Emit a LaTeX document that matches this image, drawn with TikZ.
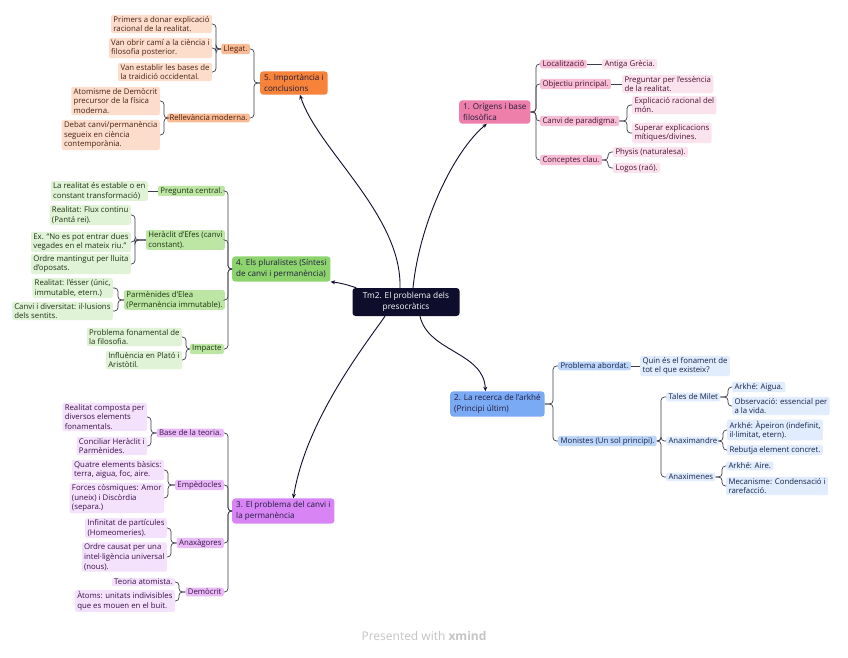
\documentclass[tikz,border=0pt]{standalone}
\usepackage{fontspec}
\setmainfont{Open Sans}
\usetikzlibrary{arrows.meta,calc}
\definecolor{ink}{HTML}{1E1B3C}
\definecolor{navy}{HTML}{0E0D2C}
\definecolor{lineC}{HTML}{3C3C4C}
\definecolor{footC}{HTML}{C4C4C4}
\definecolor{pinkM}{HTML}{EE7FAA}
\definecolor{pinkS}{HTML}{F6BFD6}
\definecolor{pinkL}{HTML}{FBE3EE}
\definecolor{pinkT}{HTML}{4A1030}
\definecolor{orgM}{HTML}{F7823A}
\definecolor{orgS}{HTML}{F9BB95}
\definecolor{orgL}{HTML}{FCDDCB}
\definecolor{orgT}{HTML}{4A2010}
\definecolor{grnM}{HTML}{8ED46E}
\definecolor{grnS}{HTML}{BDE6A5}
\definecolor{grnL}{HTML}{E1F3D6}
\definecolor{grnT}{HTML}{1C3310}
\definecolor{bluM}{HTML}{7BAAF5}
\definecolor{bluS}{HTML}{BED6FA}
\definecolor{bluL}{HTML}{E1ECFD}
\definecolor{bluT}{HTML}{14224A}
\definecolor{purM}{HTML}{D884F5}
\definecolor{purS}{HTML}{E9BCF8}
\definecolor{purL}{HTML}{F4E1FC}
\definecolor{purT}{HTML}{3A1048}
\begin{document}
\begin{tikzpicture}[x=1pt,y=-1pt,
  every node/.style={text=ink, align=left},
  txt/.style={font=\fontsize{7.8}{9.8}\selectfont, inner xsep=2.3pt, inner ysep=1.3pt, rounded corners=2pt},
  mainbox/.style={font=\fontsize{8.1}{10.6}\selectfont, inner xsep=4pt, inner ysep=3.2pt, rounded corners=3pt},
  centralbox/.style={fill=navy, text=white, align=center, font=\fontsize{8.3}{10.6}\selectfont, rounded corners=3pt, minimum width=107pt, minimum height=28pt, inner sep=3pt},
  pS/.style={txt,fill=pinkS,text=pinkT}, pL/.style={txt,fill=pinkL,text=pinkT},
  oS/.style={txt,fill=orgS,text=orgT}, oL/.style={txt,fill=orgL,text=orgT},
  gS/.style={txt,fill=grnS,text=grnT}, gL/.style={txt,fill=grnL,text=grnT},
  bS/.style={txt,fill=bluS,text=bluT}, bL/.style={txt,fill=bluL,text=bluT},
  uS/.style={txt,fill=purS,text=purT}, uL/.style={txt,fill=purL,text=purT},
  br/.style={draw=lineC, line width=0.7pt, rounded corners=3.5pt},
  mc/.style={draw=navy, line width=0.9pt, -{Stealth[length=4.5pt,width=4pt]}}
]
\useasboundingbox[fill=white] (0,0) rectangle (848,658);

% central
\node[centralbox] (c) at (406,302) {Tm2. El problema dels\\presocràtics};

% ---------- 1 pink
\node[mainbox,fill=pinkM,anchor=west] (t1) at (459,112) {1. Orígens i base\\filosòfica};
\coordinate (b1) at (536,112);
\node[pS,anchor=west] (s11) at (540,64) {Localització};
\node[pL,anchor=west] (l111) at (602,64) {Antiga Grècia.};
\node[pS,anchor=west] (s12) at (540,84) {Objectiu principal.};
\node[pL,anchor=west] (l121) at (622,84) {Preguntar per l'essència\\de la realitat.};
\node[pS,anchor=west] (s13) at (540,121) {Canvi de paradigma.};
\coordinate (b13) at (627,121);
\node[pL,anchor=west] (l131) at (632,105) {Explicació racional del\\món.};
\node[pL,anchor=west] (l132) at (632,133) {Superar explicacions\\mítiques/divines.};
\node[pS,anchor=west] (s14) at (540,160) {Conceptes clau.};
\coordinate (b14) at (608,160);
\node[pL,anchor=west] (l141) at (613,152) {Physis (naturalesa).};
\node[pL,anchor=west] (l142) at (613,168) {Logos (raó).};
\foreach \ch in {s11,s12,s13,s14} \draw[br] (t1.east) -- (t1.east -| b1) |- (\ch.west);
\draw[br] (s11.east) -- (l111.west);
\draw[br] (s12.east) -- (l121.west);
\foreach \ch in {l131,l132} \draw[br] (s13.east) -- (s13.east -| b13) |- (\ch.west);
\foreach \ch in {l141,l142} \draw[br] (s14.east) -- (s14.east -| b14) |- (\ch.west);

% ---------- 5 orange
\node[mainbox,fill=orgM,anchor=west] (t5) at (260,83) {5. Importància i\\conclusions};
\coordinate (b5) at (254,83);
\node[oS,anchor=east] (s51) at (250,49) {Llegat.};
\coordinate (b51) at (216,49);
\node[oL,anchor=east] (l511) at (212,24) {Primers a donar explicació\\racional de la realitat.};
\node[oL,anchor=east] (l512) at (212,48) {Van obrir camí a la ciència i\\filosofia posterior.};
\node[oL,anchor=east] (l513) at (212,72) {Van establir les bases de\\la traidició occidental.};
\node[oS,anchor=east] (s52) at (250,118) {Rellevància moderna.};
\coordinate (b52) at (164,118);
\node[oL,anchor=east] (l521) at (160,101) {Atomisme de Demòcrit\\precursor de la física\\moderna.};
\node[oL,anchor=east] (l522) at (160,135) {Debat canvi/permanència\\segueix en ciència\\contemporània.};
\foreach \ch in {s51,s52} \draw[br] (t5.west) -- (t5.west -| b5) |- (\ch.east);
\foreach \ch in {l511,l512,l513} \draw[br] (s51.west) -- (s51.west -| b51) |- (\ch.east);
\foreach \ch in {l521,l522} \draw[br] (s52.west) -- (s52.west -| b52) |- (\ch.east);

% ---------- 4 green
\node[mainbox,fill=grnM,anchor=west] (t4) at (232,269) {4. Els pluralistes (Síntesi\\de canvi i permanència)};
\coordinate (b4) at (228,269);
\node[gS,anchor=east] (s41) at (225,191) {Pregunta central.};
\node[gL,anchor=east] (l411) at (148,191) {La realitat és estable o en\\constant transformació)};
\node[gS,anchor=east] (s42) at (225,240) {Heràclit d'Efes (canvi\\constant).};
\coordinate (b42) at (135,240);
\node[gL,anchor=east] (l421) at (131,215) {Realitat: Flux continu\\(Pantá rei).};
\node[gL,anchor=east] (l422) at (131,242) {Ex. “No es pot entrar dues\\vegades en el mateix riu.”};
\node[gL,anchor=east] (l423) at (131,264) {Ordre mantingut per lluita\\d'oposats.};
\node[gS,anchor=east] (s43) at (225,300) {Parmènides d'Elea\\(Permanència immutable).};
\coordinate (b43) at (118,300);
\node[gL,anchor=east] (l431) at (113,288) {Realitat: l'ésser (únic,\\immutable, etern.)};
\node[gL,anchor=east] (l432) at (113,311) {Canvi i diversitat: il·lusions\\dels sentits.};
\node[gS,anchor=east] (s44) at (224,349) {Impacte};
\coordinate (b44) at (186,349);
\node[gL,anchor=east] (l441) at (182,337) {Problema fonamental de\\la filosofia.};
\node[gL,anchor=east] (l442) at (182,360) {Influència en Plató i\\Aristòtil.};
\foreach \ch in {s41,s42,s43,s44} \draw[br] (t4.west) -- (t4.west -| b4) |- (\ch.east);
\draw[br] (s41.west) -- (l411.east);
\foreach \ch in {l421,l422,l423} \draw[br] (s42.west) -- (s42.west -| b42) |- (\ch.east);
\foreach \ch in {l431,l432} \draw[br] (s43.west) -- (s43.west -| b43) |- (\ch.east);
\foreach \ch in {l441,l442} \draw[br] (s44.west) -- (s44.west -| b44) |- (\ch.east);

% ---------- 2 blue
\node[mainbox,fill=bluM,anchor=west] (t2) at (450,404) {2. La recerca de l'arkhé\\(Principi últim)};
\coordinate (b2) at (553,404);
\node[bS,anchor=west] (s21) at (558,366) {Problema abordat.};
\node[bL,anchor=west] (l211) at (640,366) {Quin és el fonament de\\tot el que existeix?};
\node[bS,anchor=west] (s22) at (558,441) {Monistes (Un sol principi).};
\coordinate (b22) at (661,441);
\node[bL,anchor=west] (s221) at (666,397) {Tales de Milet};
\coordinate (b221) at (728,397);
\node[bL,anchor=west] (l2211) at (732,387) {Arkhé: Aigua.};
\node[bL,anchor=west] (l2212) at (732,406) {Observació: essencial per\\a la vida.};
\node[bL,anchor=west] (s222) at (666,441) {Anaximandre};
\coordinate (b222) at (723,441);
\node[bL,anchor=west] (l2221) at (727,430) {Arkhé: Àpeiron (indefinit,\\il·limitat, etern).};
\node[bL,anchor=west] (l2222) at (727,450) {Rebutja element concret.};
\node[bL,anchor=west] (s223) at (666,477) {Anaximenes};
\coordinate (b223) at (722,477);
\node[bL,anchor=west] (l2231) at (726,466) {Arkhé: Aire.};
\node[bL,anchor=west] (l2232) at (726,486) {Mecanisme: Condensació i\\rarefacció.};
\foreach \ch in {s21,s22} \draw[br] (t2.east) -- (t2.east -| b2) |- (\ch.west);
\draw[br] (s21.east) -- (l211.west);
\foreach \ch in {s221,s222,s223} \draw[br] (s22.east) -- (s22.east -| b22) |- (\ch.west);
\foreach \ch in {l2211,l2212} \draw[br] (s221.east) -- (s221.east -| b221) |- (\ch.west);
\foreach \ch in {l2221,l2222} \draw[br] (s222.east) -- (s222.east -| b222) |- (\ch.west);
\foreach \ch in {l2231,l2232} \draw[br] (s223.east) -- (s223.east -| b223) |- (\ch.west);

% ---------- 3 purple
\node[mainbox,fill=purM,anchor=west] (t3) at (232,511) {3. El problema del canvi i\\la permanència};
\coordinate (b3) at (228,511);
\node[uS,anchor=east] (s31) at (224,433) {Base de la teoria.};
\coordinate (b31) at (151,433);
\node[uL,anchor=east] (l311) at (147,417) {Realitat composta per\\diversos elements\\fonamentals.};
\node[uL,anchor=east] (l312) at (147,446) {Conciliar Heràclit i\\Parmènides.};
\node[uS,anchor=east] (s32) at (224,485) {Empèdocles};
\coordinate (b32) at (168,485);
\node[uL,anchor=east] (l321) at (164,470) {Quatre elements bàsics:\\terra, aigua, foc, aire.};
\node[uL,anchor=east] (l322) at (164,498) {Forces còsmiques: Amor\\(uneix) i Discòrdia\\(separa.)};
\node[uS,anchor=east] (s33) at (224,543) {Anaxàgores};
\coordinate (b33) at (171,543);
\node[uL,anchor=east] (l331) at (167,528) {Infinitat de partícules\\(Homeomeries).};
\node[uL,anchor=east] (l332) at (167,557) {Ordre causat per una\\intel·ligència universal\\(nous).};
\node[uS,anchor=east] (s34) at (224,592) {Demòcrit};
\coordinate (b34) at (179,592);
\node[uL,anchor=east] (l341) at (175,582) {Teoria atomista.};
\node[uL,anchor=east] (l342) at (175,601) {Àtoms: unitats indivisibles\\que es mouen en el buit.};
\foreach \ch in {s31,s32,s33,s34} \draw[br] (t3.west) -- (t3.west -| b3) |- (\ch.east);
\foreach \ch in {l311,l312} \draw[br] (s31.west) -- (s31.west -| b31) |- (\ch.east);
\foreach \ch in {l321,l322} \draw[br] (s32.west) -- (s32.west -| b32) |- (\ch.east);
\foreach \ch in {l331,l332} \draw[br] (s33.west) -- (s33.west -| b33) |- (\ch.east);
\foreach \ch in {l341,l342} \draw[br] (s34.west) -- (s34.west -| b34) |- (\ch.east);

% ---------- central connectors
\draw[mc] ([xshift=7pt]c.north) .. controls (420,220) and (455,150) .. ([xshift=-8pt]t1.south);
\draw[mc] ([xshift=-6pt]c.north) .. controls (402,215) and (318,150) .. ([xshift=6pt]t5.south);
\draw[mc] ([xshift=4pt]c.north west) .. controls (348,285) and (341,283) .. (t4.south east);
\draw[mc] ([xshift=14pt]c.south) .. controls (428,352) and (484,352) .. ([xshift=-12pt]t2.north);
\draw[mc] ([xshift=-21pt]c.south) .. controls (365,345) and (306,420) .. ([xshift=10pt]t3.north);

% footer
\node[font=\fontsize{12}{14}\selectfont, text=footC, align=center] (ft) at (424,636) {Presented with \textbf{xmind}};
\end{tikzpicture}
\end{document}
